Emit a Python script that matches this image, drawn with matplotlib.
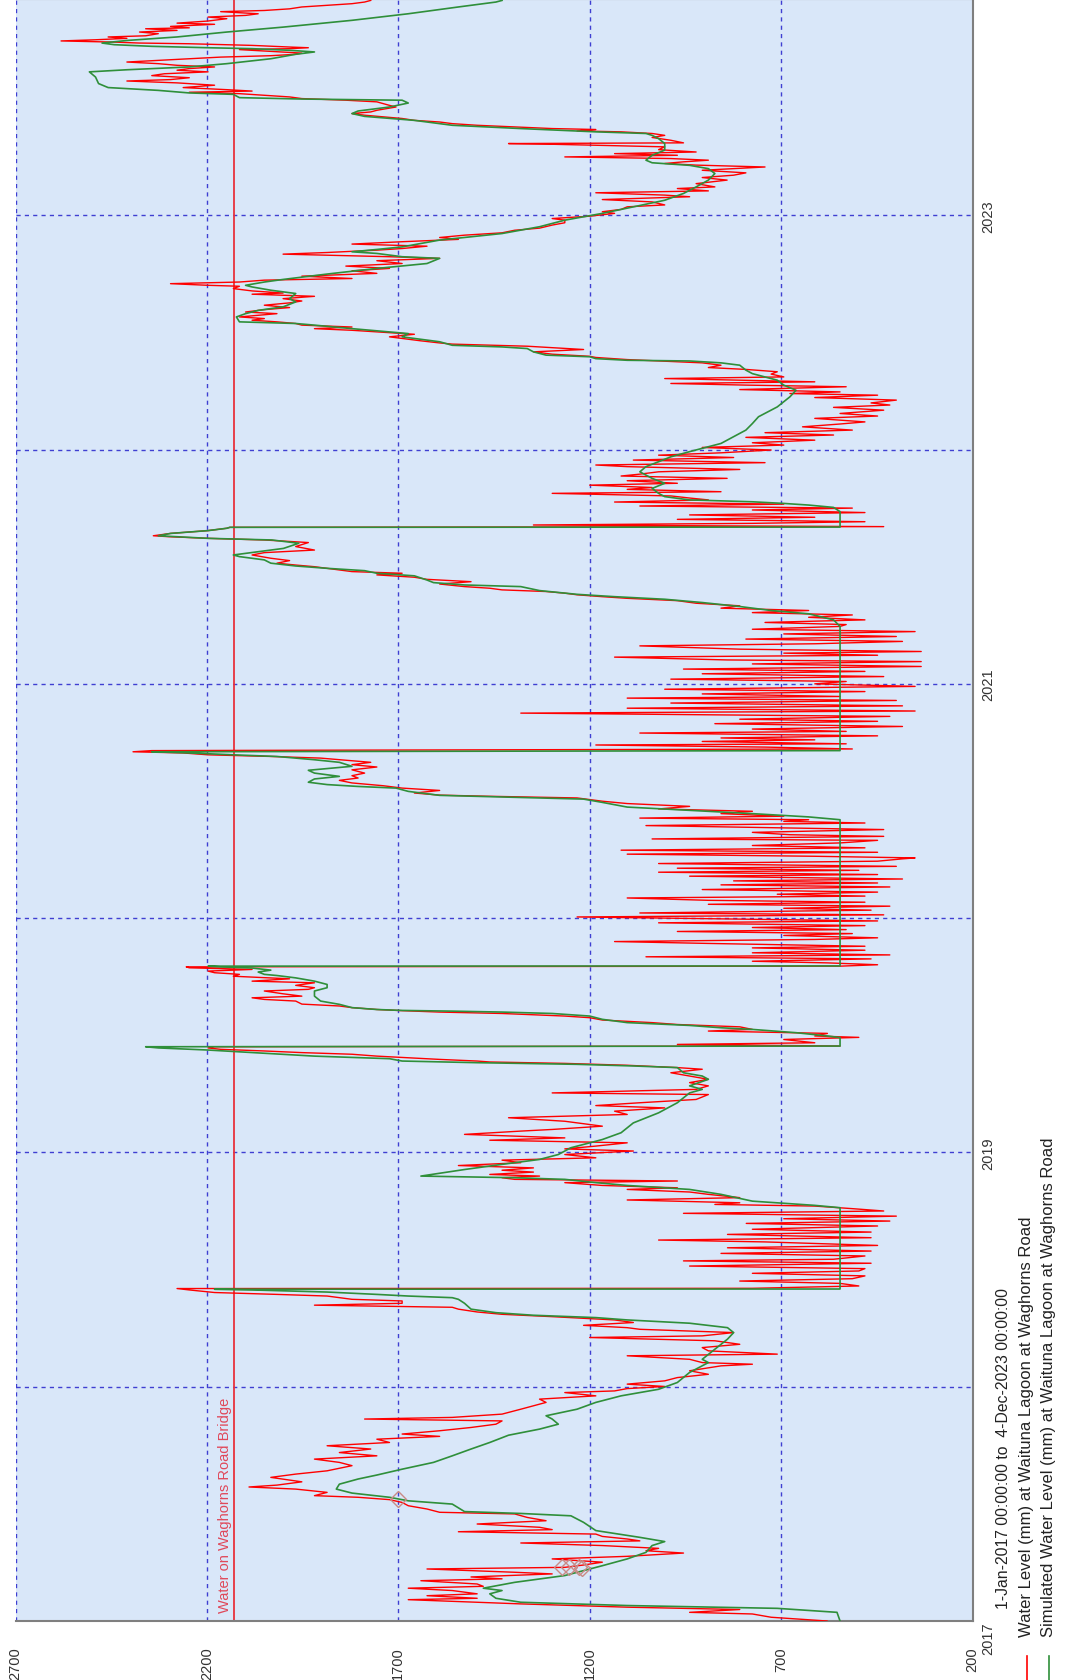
"""Waituna Lagoon water level at Waghorns Road, observed vs simulated,
drawn in the rotated (portrait) layout of the original report figure."""

import matplotlib

matplotlib.use("Agg")
import matplotlib.pyplot as plt
from matplotlib.lines import Line2D

# (decimal year, water level mm)
obs_a = [
    (2017.000, 580), (2017.016, 726), (2017.030, 775), (2017.037, 939), (2017.049, 808),
    (2017.059, 1102), (2017.073, 1380), (2017.080, 1494), (2017.091, 1674), (2017.097, 1494),
    (2017.108, 1625), (2017.116, 1494), (2017.130, 1559), (2017.140, 1674), (2017.148, 1478),
    (2017.158, 1494), (2017.172, 1641), (2017.180, 1429), (2017.188, 1510), (2017.201, 1298),
    (2017.208, 1396), (2017.222, 1625), (2017.229, 1265), (2017.239, 1216), (2017.251, 1167),
    (2017.265, 1298), (2017.276, 1102), (2017.290, 955), (2017.300, 1053), (2017.310, 1020),
    (2017.322, 1167), (2017.333, 1380), (2017.342, 1069), (2017.350, 1102), (2017.361, 1167),
    (2017.371, 1184), (2017.381, 1543), (2017.390, 1298), (2017.400, 1331), (2017.414, 1494),
    (2017.428, 1314), (2017.442, 1363), (2017.457, 1396), (2017.464, 1592), (2017.478, 1625),
    (2017.492, 1674), (2017.506, 1690), (2017.518, 1723), (2017.528, 1805), (2017.535, 1919),
    (2017.549, 1886), (2017.563, 1968), (2017.572, 2090), (2017.580, 2017), (2017.594, 1952),
    (2017.613, 2033), (2017.627, 1968), (2017.641, 1886), (2017.663, 1821), (2017.677, 1854),
    (2017.691, 1919), (2017.705, 1756), (2017.719, 1854), (2017.734, 1772), (2017.748, 1886),
    (2017.762, 1723), (2017.776, 1756), (2017.788, 1592), (2017.798, 1690), (2017.812, 1592),
    (2017.826, 1510), (2017.840, 1445), (2017.854, 1429), (2017.862, 1788), (2017.869, 1559),
    (2017.883, 1429), (2017.904, 1380), (2017.933, 1314), (2017.947, 1331), (2017.961, 1184),
    (2017.975, 1265), (2017.982, 1135), (2017.992, 1102), (2018.001, 1004), (2018.011, 1102),
    (2018.025, 1004), (2018.039, 971), (2018.053, 890), (2018.068, 939), (2018.089, 857),
    (2018.096, 775), (2018.103, 906),
]
obs_b = [
    (2018.117, 939), (2018.132, 1102), (2018.139, 710), (2018.153, 890), (2018.167, 906),
    (2018.181, 808), (2018.196, 873), (2018.210, 1200), (2018.217, 906), (2018.231, 824),
    (2018.245, 1069), (2018.252, 1102), (2018.262, 1216), (2018.274, 1086), (2018.285, 1135),
    (2018.299, 1298), (2018.309, 1429), (2018.319, 1494), (2018.331, 1543), (2018.339, 1559),
    (2018.348, 1919), (2018.356, 1690), (2018.366, 1690), (2018.373, 1821), (2018.387, 1886),
    (2018.394, 2017), (2018.402, 2180), (2018.413, 2246), (2018.419, 2278), (2018.420, 775),
    (2018.430, 497), (2018.441, 546), (2018.451, 808), (2018.461, 514), (2018.473, 481),
    (2018.484, 775), (2018.494, 497), (2018.504, 481), (2018.515, 939), (2018.527, 465),
    (2018.537, 955), (2018.544, 563), (2018.558, 481), (2018.569, 857), (2018.579, 465),
    (2018.593, 840), (2018.603, 448), (2018.618, 742), (2018.626, 1020), (2018.636, 465),
    (2018.650, 840), (2018.660, 465), (2018.672, 775), (2018.686, 448), (2018.697, 791),
    (2018.707, 416), (2018.717, 693), (2018.728, 399), (2018.740, 955), (2018.750, 432),
    (2018.760, 514), (2018.771, 612), (2018.778, 873), (2018.785, 808), (2018.797, 1102),
    (2018.807, 808), (2018.821, 890), (2018.831, 939), (2018.842, 1102), (2018.849, 971),
    (2018.859, 1167), (2018.871, 1265), (2018.878, 971), (2018.885, 1396), (2018.892, 1429),
    (2018.899, 1331), (2018.906, 1461), (2018.916, 1347), (2018.924, 1429), (2018.934, 1347),
    (2018.944, 1543), (2018.956, 1380), (2018.967, 1429), (2018.977, 1184), (2018.991, 1265),
    (2019.006, 1086), (2019.015, 1265), (2019.027, 1184), (2019.041, 1102), (2019.052, 1461),
    (2019.062, 1265), (2019.077, 1527), (2019.091, 1380), (2019.098, 1298), (2019.112, 1167),
    (2019.133, 1265), (2019.148, 1412), (2019.162, 1102), (2019.176, 1135), (2019.190, 1004),
    (2019.200, 1184), (2019.212, 1069), (2019.226, 922), (2019.247, 890), (2019.254, 1298),
]
obs_c = [
    (2019.269, 922), (2019.284, 890), (2019.298, 939), (2019.312, 890), (2019.326, 939),
    (2019.340, 988), (2019.355, 906), (2019.362, 971), (2019.372, 1102), (2019.380, 1265),
    (2019.386, 1461), (2019.390, 1494), (2019.397, 1592), (2019.404, 1674), (2019.411, 1756),
    (2019.419, 1821), (2019.426, 1952), (2019.433, 2050), (2019.440, 2164), (2019.446, 2197),
    (2019.451, 2180), (2019.454, 546), (2019.461, 971), (2019.468, 612), (2019.482, 693),
    (2019.491, 497), (2019.497, 612), (2019.508, 579), (2019.518, 890), (2019.525, 775),
    (2019.536, 808), (2019.546, 971), (2019.554, 1037), (2019.565, 1167), (2019.575, 1200),
    (2019.582, 1265), (2019.593, 1429), (2019.599, 1592), (2019.605, 1690), (2019.610, 1756),
    (2019.618, 1821), (2019.625, 1854), (2019.633, 1952), (2019.646, 1968), (2019.653, 2050),
    (2019.660, 2082), (2019.667, 1952), (2019.677, 2001), (2019.689, 2050), (2019.696, 1935),
    (2019.703, 1919), (2019.713, 1968), (2019.724, 1919), (2019.731, 2082), (2019.741, 1984),
    (2019.752, 2131), (2019.760, 2115), (2019.767, 2180), (2019.774, 2197), (2019.781, 2082),
    (2019.788, 2246), (2019.792, 2254), (2019.795, 546), (2019.801, 448), (2019.809, 579),
    (2019.816, 775), (2019.826, 465), (2019.835, 1053), (2019.843, 416), (2019.852, 775),
    (2019.863, 481), (2019.873, 775), (2019.880, 481), (2019.892, 890), (2019.900, 1135),
    (2019.909, 612), (2019.916, 448), (2019.926, 693), (2019.934, 514), (2019.943, 971),
    (2019.951, 530), (2019.960, 775), (2019.968, 481), (2019.980, 1020), (2019.988, 448),
    (2019.997, 857), (2020.005, 1233), (2020.014, 432), (2020.022, 1069), (2020.034, 465),
    (2020.042, 693), (2020.051, 416), (2020.059, 890), (2020.068, 481), (2020.076, 890),
    (2020.086, 1102), (2020.094, 481), (2020.102, 710), (2020.111, 448), (2020.122, 906),
    (2020.133, 416), (2020.142, 857), (2020.150, 448), (2020.159, 824), (2020.167, 383),
    (2020.179, 939), (2020.186, 448), (2020.196, 1020), (2020.204, 497), (2020.213, 971),
    (2020.221, 399), (2020.233, 1020), (2020.243, 448), (2020.253, 383), (2020.257, 350),
    (2020.264, 612), (2020.273, 1102), (2020.281, 448), (2020.290, 1118), (2020.300, 481),
    (2020.310, 775), (2020.321, 546), (2020.332, 448), (2020.338, 1037), (2020.349, 432),
    (2020.356, 677), (2020.366, 775), (2020.378, 432), (2020.385, 693), (2020.395, 1053),
    (2020.406, 481), (2020.413, 693),
]
obs_d = [
    (2020.420, 628), (2020.427, 1069), (2020.435, 693), (2020.446, 857), (2020.456, 775),
    (2020.466, 1020), (2020.477, 939), (2020.489, 1102), (2020.499, 1167), (2020.506, 1200),
    (2020.513, 1233), (2020.520, 1461), (2020.525, 1592), (2020.534, 1658), (2020.545, 1592),
    (2020.555, 1690), (2020.565, 1739), (2020.577, 1821), (2020.588, 1854), (2020.598, 1805),
    (2020.608, 1821), (2020.619, 1788), (2020.633, 1821), (2020.645, 1756), (2020.655, 1821),
    (2020.665, 1772), (2020.676, 1854), (2020.683, 1903), (2020.690, 2033), (2020.697, 2197),
    (2020.705, 2262), (2020.710, 2393), (2020.715, 2344), (2020.722, 514), (2020.730, 742),
    (2020.739, 1184), (2020.744, 530), (2020.754, 906), (2020.761, 612), (2020.769, 857),
    (2020.778, 448), (2020.790, 1069), (2020.797, 530), (2020.807, 775), (2020.818, 383),
    (2020.830, 873), (2020.840, 448), (2020.849, 808), (2020.861, 416), (2020.875, 1380),
    (2020.884, 350), (2020.896, 1102), (2020.906, 383), (2020.918, 988), (2020.929, 399),
    (2020.939, 1102), (2020.946, 546), (2020.957, 906), (2020.967, 481), (2020.977, 1004),
    (2020.989, 350), (2021.000, 612), (2021.010, 530), (2021.020, 988), (2021.031, 432),
    (2021.043, 906), (2021.053, 481), (2021.063, 955), (2021.074, 334), (2021.085, 775),
    (2021.095, 334), (2021.102, 841), (2021.114, 1135), (2021.122, 448), (2021.131, 693),
    (2021.138, 334), (2021.148, 808), (2021.162, 1069), (2021.171, 612), (2021.181, 383),
    (2021.191, 792), (2021.202, 399), (2021.213, 693), (2021.223, 350), (2021.233, 775),
    (2021.245, 546), (2021.253, 530), (2021.262, 742), (2021.273, 481), (2021.284, 628),
    (2021.294, 514), (2021.304, 775), (2021.313, 628), (2021.323, 857), (2021.333, 808),
    (2021.344, 922), (2021.355, 971), (2021.365, 1102), (2021.372, 1167), (2021.380, 1233),
    (2021.387, 1265), (2021.394, 1314), (2021.401, 1429), (2021.408, 1461), (2021.415, 1527),
    (2021.426, 1592), (2021.436, 1510), (2021.446, 1625), (2021.455, 1658), (2021.465, 1756),
    (2021.472, 1690), (2021.479, 1821), (2021.486, 1854), (2021.493, 1886), (2021.500, 1919),
    (2021.507, 1968), (2021.515, 2017), (2021.526, 1984), (2021.536, 2033), (2021.550, 2082),
    (2021.560, 2050), (2021.571, 1919), (2021.586, 1968), (2021.603, 1935), (2021.614, 2050),
    (2021.621, 2197), (2021.628, 2300), (2021.632, 2340), (2021.642, 2295), (2021.654, 2197),
    (2021.664, 2148), (2021.668, 2140),
]
obs_e = [
    (2021.671, 432), (2021.678, 1347), (2021.685, 775), (2021.692, 481), (2021.702, 971),
    (2021.711, 612), (2021.721, 939), (2021.731, 481), (2021.742, 775), (2021.750, 514),
    (2021.759, 1069), (2021.767, 693), (2021.776, 1135), (2021.785, 890), (2021.793, 939),
    (2021.802, 988), (2021.813, 1298), (2021.820, 857), (2021.830, 1102), (2021.838, 1037),
    (2021.848, 1200), (2021.856, 971), (2021.867, 1102), (2021.877, 841), (2021.887, 1118),
    (2021.895, 1069), (2021.905, 1020), (2021.915, 808), (2021.927, 1102), (2021.934, 1184),
    (2021.944, 742), (2021.955, 1086), (2021.966, 824), (2021.976, 1020), (2021.986, 857),
    (2021.998, 726), (2022.009, 906), (2022.019, 693), (2022.029, 775), (2022.040, 612),
    (2022.052, 792), (2022.062, 563), (2022.072, 742), (2022.083, 514), (2022.097, 644),
    (2022.109, 546), (2022.118, 481), (2022.133, 612), (2022.143, 448), (2022.154, 546),
    (2022.168, 432), (2022.180, 563), (2022.190, 416), (2022.199, 465), (2022.211, 399),
    (2022.222, 612), (2022.232, 448), (2022.239, 677), (2022.246, 546), (2022.256, 808),
    (2022.268, 530), (2022.275, 792), (2022.282, 988), (2022.289, 612), (2022.303, 1004),
    (2022.310, 693), (2022.322, 726), (2022.332, 710), (2022.342, 792), (2022.350, 890),
    (2022.360, 857), (2022.370, 906), (2022.378, 1020), (2022.384, 1102), (2022.393, 1184),
    (2022.398, 1200), (2022.407, 1298), (2022.417, 1347), (2022.427, 1216), (2022.435, 1298),
    (2022.441, 1363), (2022.450, 1559), (2022.455, 1592), (2022.464, 1641), (2022.474, 1690),
    (2022.481, 1723), (2022.492, 1658), (2022.502, 1756), (2022.509, 1821), (2022.516, 1919),
    (2022.523, 1821), (2022.531, 1952), (2022.538, 1968), (2022.545, 2017), (2022.552, 2082),
    (2022.559, 2050), (2022.566, 2115), (2022.573, 2066), (2022.580, 2017), (2022.587, 2099),
    (2022.597, 2050), (2022.606, 1984), (2022.616, 2050), (2022.626, 1984), (2022.634, 1952),
    (2022.644, 2001), (2022.654, 1919), (2022.663, 2082), (2022.668, 2001), (2022.677, 2082),
    (2022.687, 2131), (2022.697, 2115), (2022.701, 2197), (2022.708, 2295), (2022.715, 2115),
]
obs_f = [
    (2022.723, 2050), (2022.730, 1821), (2022.740, 1952), (2022.752, 1756), (2022.763, 1821),
    (2022.773, 1723), (2022.783, 1837), (2022.794, 1690), (2022.806, 1756), (2022.816, 1592),
    (2022.823, 1723), (2022.834, 2001), (2022.841, 1886), (2022.851, 1756), (2022.858, 1690),
    (2022.868, 1625), (2022.877, 1821), (2022.887, 1690), (2022.897, 1543), (2022.905, 1592),
    (2022.915, 1527), (2022.925, 1429), (2022.936, 1396), (2022.945, 1331), (2022.958, 1298),
    (2022.968, 1265), (2022.979, 1265), (2022.986, 1298), (2022.996, 1200), (2023.008, 1135),
    (2023.015, 1167), (2023.025, 1118), (2023.036, 1102), (2023.044, 1004), (2023.057, 1037),
    (2023.067, 1167), (2023.079, 939), (2023.086, 1004), (2023.096, 1184), (2023.104, 890),
    (2023.114, 971), (2023.121, 873), (2023.135, 922), (2023.150, 841), (2023.161, 906),
    (2023.171, 824), (2023.181, 792), (2023.192, 906), (2023.206, 742), (2023.214, 922),
    (2023.221, 1004), (2023.228, 955), (2023.235, 890), (2023.242, 988), (2023.249, 1265),
    (2023.256, 971), (2023.263, 1135), (2023.270, 922), (2023.280, 1020), (2023.292, 1004),
    (2023.303, 1298), (2023.306, 1412), (2023.309, 955), (2023.320, 988), (2023.332, 1037),
    (2023.341, 1004), (2023.349, 1037), (2023.356, 1118), (2023.360, 1233), (2023.366, 1184),
    (2023.370, 1298), (2023.377, 1396), (2023.384, 1494), (2023.391, 1559), (2023.398, 1592),
    (2023.405, 1658), (2023.413, 1690), (2023.420, 1739), (2023.427, 1788), (2023.434, 1821),
    (2023.441, 1772), (2023.448, 1756), (2023.462, 1706), (2023.469, 1723), (2023.484, 1756),
    (2023.491, 1837), (2023.498, 1952), (2023.505, 1984), (2023.512, 2050), (2023.519, 2115),
    (2023.525, 2246), (2023.530, 2082), (2023.536, 2148), (2023.545, 2262), (2023.555, 2180),
    (2023.565, 2278), (2023.573, 2409), (2023.579, 2295), (2023.587, 2246), (2023.596, 2344),
    (2023.604, 2311), (2023.612, 2197), (2023.619, 2278), (2023.626, 2246), (2023.633, 2180),
    (2023.640, 2278), (2023.647, 2327), (2023.654, 2409), (2023.661, 2327), (2023.668, 2246),
    (2023.675, 2164), (2023.681, 2033), (2023.687, 1968), (2023.692, 1952), (2023.698, 2017),
    (2023.704, 2082), (2023.707, 2115), (2023.711, 1984), (2023.715, 1935), (2023.718, 1984),
    (2023.725, 2082), (2023.732, 2246), (2023.735, 2376), (2023.739, 2442), (2023.744, 2581),
    (2023.749, 2491), (2023.755, 2409), (2023.761, 2458), (2023.766, 2360), (2023.775, 2327),
    (2023.782, 2376), (2023.789, 2278), (2023.796, 2360), (2023.800, 2246), (2023.806, 2295),
    (2023.815, 2180), (2023.820, 2278), (2023.829, 2197), (2023.839, 2148), (2023.846, 2197),
    (2023.853, 2099), (2023.860, 2066), (2023.869, 2164), (2023.874, 2050), (2023.881, 1984),
    (2023.889, 1952), (2023.896, 1886), (2023.903, 1821), (2023.910, 1788), (2023.917, 1772),
]

sim_a = [
    (2017.000, 546), (2017.037, 554), (2017.054, 710), (2017.066, 1102), (2017.080, 1380),
    (2017.097, 1445), (2017.116, 1461), (2017.130, 1429), (2017.140, 1478), (2017.165, 1396),
    (2017.194, 1265), (2017.236, 1167), (2017.265, 1102), (2017.293, 1053), (2017.322, 1037),
    (2017.339, 1004), (2017.357, 1069), (2017.386, 1184), (2017.421, 1216), (2017.449, 1249),
    (2017.459, 1380), (2017.467, 1527), (2017.499, 1559), (2017.513, 1674), (2017.528, 1723),
    (2017.546, 1821), (2017.563, 1862), (2017.584, 1854), (2017.606, 1805), (2017.623, 1756),
    (2017.648, 1690), (2017.677, 1608), (2017.705, 1559), (2017.734, 1510), (2017.762, 1461),
    (2017.793, 1412), (2017.819, 1331), (2017.840, 1282), (2017.862, 1298), (2017.876, 1314),
    (2017.904, 1233), (2017.933, 1184), (2017.961, 1118), (2017.989, 1020), (2018.018, 971),
    (2018.061, 939), (2018.103, 890),
]
sim_b = [
    (2018.117, 906), (2018.160, 873), (2018.203, 840), (2018.231, 824), (2018.252, 840),
    (2018.271, 939), (2018.285, 1102), (2018.295, 1184), (2018.305, 1347), (2018.316, 1445),
    (2018.331, 1510), (2018.356, 1527), (2018.373, 1543), (2018.380, 1559), (2018.387, 1674),
    (2018.394, 1756), (2018.404, 1886), (2018.413, 2082), (2018.416, 2180), (2018.417, 546),
    (2018.764, 546), (2018.774, 612), (2018.792, 775), (2018.821, 857), (2018.842, 939),
    (2018.859, 1102), (2018.871, 1184), (2018.885, 1265), (2018.892, 1396), (2018.896, 1543),
    (2018.899, 1641), (2018.907, 1608), (2018.927, 1527), (2018.949, 1429), (2018.970, 1331),
    (2018.991, 1282), (2019.020, 1249), (2019.055, 1167), (2019.084, 1118), (2019.126, 1086),
    (2019.169, 1020), (2019.212, 971), (2019.254, 939),
]
sim_c = [
    (2019.269, 906), (2019.284, 939), (2019.312, 890), (2019.326, 906), (2019.340, 955),
    (2019.362, 971), (2019.369, 1086), (2019.376, 1233), (2019.383, 1494), (2019.390, 1690),
    (2019.400, 1723), (2019.411, 1919), (2019.426, 2082), (2019.437, 2197), (2019.446, 2327),
    (2019.451, 2360), (2019.454, 546), (2019.490, 546), (2019.497, 579), (2019.511, 661),
    (2019.525, 775), (2019.532, 857), (2019.542, 939), (2019.554, 1102), (2019.568, 1167),
    (2019.582, 1200), (2019.593, 1298), (2019.599, 1429), (2019.603, 1559), (2019.606, 1690),
    (2019.610, 1756), (2019.618, 1821), (2019.632, 1854), (2019.646, 1903), (2019.667, 1919),
    (2019.689, 1919), (2019.703, 1886), (2019.717, 1886), (2019.731, 1919), (2019.745, 1968),
    (2019.755, 2017), (2019.760, 2050), (2019.770, 2066), (2019.778, 2033), (2019.787, 2082),
    (2019.792, 2164), (2019.795, 2197), (2019.796, 546),
]
sim_d = [
    (2020.420, 546), (2020.432, 628), (2020.446, 775), (2020.460, 939), (2020.474, 1102),
    (2020.494, 1167), (2020.508, 1216), (2020.517, 1429), (2020.524, 1592), (2020.541, 1674),
    (2020.555, 1706), (2020.562, 1805), (2020.570, 1886), (2020.580, 1935), (2020.594, 1919),
    (2020.605, 1854), (2020.619, 1919), (2020.631, 1935), (2020.648, 1821), (2020.665, 1854),
    (2020.676, 1919), (2020.690, 2017), (2020.697, 2131), (2020.705, 2246), (2020.710, 2344),
    (2020.715, 546), (2021.245, 546), (2021.273, 563), (2021.299, 628), (2021.313, 726),
    (2021.330, 808), (2021.347, 906), (2021.361, 1004), (2021.372, 1135), (2021.382, 1233),
    (2021.398, 1331), (2021.415, 1380), (2021.422, 1527), (2021.432, 1608), (2021.443, 1625),
    (2021.461, 1658), (2021.472, 1756), (2021.483, 1788), (2021.493, 1886), (2021.503, 1968),
    (2021.515, 2033), (2021.529, 2050), (2021.543, 2115), (2021.550, 2131), (2021.578, 2000),
    (2021.600, 1960), (2021.614, 2030), (2021.621, 2197), (2021.632, 2327), (2021.642, 2295),
    (2021.654, 2197), (2021.664, 2148), (2021.668, 2140),
]
sim_e = [
    (2021.669, 546), (2021.735, 546), (2021.753, 563), (2021.763, 628), (2021.770, 693),
    (2021.777, 775), (2021.785, 939), (2021.799, 1004), (2021.813, 1020), (2021.834, 1037),
    (2021.856, 1004), (2021.877, 1037), (2021.905, 1069), (2021.927, 1053), (2021.948, 1020),
    (2021.969, 988), (2021.991, 939), (2022.026, 857), (2022.083, 792), (2022.111, 775),
    (2022.140, 759), (2022.182, 710), (2022.225, 677), (2022.253, 661), (2022.275, 693),
    (2022.296, 710), (2022.324, 775), (2022.339, 792), (2022.360, 808), (2022.370, 857),
    (2022.378, 939), (2022.381, 1102), (2022.388, 1184), (2022.396, 1200), (2022.403, 1314),
    (2022.417, 1347), (2022.431, 1363), (2022.438, 1429), (2022.445, 1559), (2022.460, 1592),
    (2022.474, 1658), (2022.481, 1690), (2022.495, 1674), (2022.502, 1723), (2022.516, 1821),
    (2022.531, 1919), (2022.538, 1968), (2022.545, 2115), (2022.566, 2123), (2022.580, 2099),
    (2022.594, 2066), (2022.609, 2001), (2022.630, 1968), (2022.644, 1984), (2022.666, 1968),
    (2022.680, 2033), (2022.694, 2082), (2022.701, 2099), (2022.715, 2050),
]
sim_f = [
    (2022.726, 2001), (2022.749, 1886), (2022.773, 1756), (2022.794, 1625), (2022.816, 1592),
    (2022.823, 1690), (2022.837, 1756), (2022.844, 1821), (2022.854, 1756), (2022.865, 1690),
    (2022.894, 1592), (2022.922, 1429), (2022.951, 1331), (2022.979, 1265), (2023.008, 1167),
    (2023.036, 1086), (2023.064, 1004), (2023.093, 955), (2023.121, 922), (2023.150, 890),
    (2023.178, 873), (2023.199, 890), (2023.213, 939), (2023.224, 1037), (2023.235, 1053),
    (2023.256, 1037), (2023.278, 1004), (2023.306, 1004), (2023.327, 1020), (2023.341, 1037),
    (2023.349, 1053), (2023.356, 1184), (2023.370, 1380), (2023.384, 1559), (2023.405, 1658),
    (2023.422, 1788), (2023.434, 1821), (2023.445, 1805), (2023.462, 1723), (2023.479, 1674),
    (2023.491, 1690), (2023.496, 1952), (2023.502, 2115), (2023.516, 2131), (2023.522, 2246),
    (2023.533, 2327), (2023.545, 2458), (2023.562, 2483), (2023.590, 2491), (2023.612, 2507),
    (2023.621, 2409), (2023.633, 2246), (2023.647, 2148), (2023.668, 2033), (2023.687, 1968),
    (2023.697, 1919), (2023.704, 1984), (2023.711, 2082), (2023.715, 2197), (2023.721, 2344),
    (2023.728, 2442), (2023.735, 2474), (2023.746, 2409), (2023.761, 2278), (2023.782, 2148),
    (2023.803, 2001), (2023.832, 1821), (2023.860, 1674), (2023.889, 1543), (2023.910, 1445),
    (2023.917, 1429),
]

gauge_t = [2017.230, 2017.232, 2017.230, 2017.225, 2017.519]
gauge_mm = [1273, 1255, 1229, 1221, 1700]

bridge_mm = 2130
level_ticks = [2700, 2200, 1700, 1200, 700, 200]
year_ticks = [2017, 2018, 2019, 2020, 2021, 2022, 2023]
year_labels = ["2017", "", "2019", "", "2021", "", "2023"]
t_start, t_end = 2017.0, 2023.923

plt.rcParams["font.family"] = ["Liberation Sans", "DejaVu Sans"]

obs = obs_a + obs_b + obs_c + obs_d + obs_e + obs_f
sim = sim_a + sim_b + sim_c + sim_d + sim_e + sim_f
obs_t = [p[0] for p in obs]
obs_mm = [p[1] for p in obs]
sim_t = [p[0] for p in sim]
sim_mm = [p[1] for p in sim]

W, H = 1067, 1681
fig = plt.figure(figsize=(W / 100, H / 100), dpi=100)
ax = fig.add_axes([15.5 / W, 1 - 1622 / H, 957 / W, 1622 / H])
ax.set_facecolor("#d9e7f9")

red = "#ff0000"
green = "#2f8f3a"
ax.axvline(bridge_mm, color="#e8323c", lw=1.3, zorder=2)
ax.plot(obs_mm, obs_t, color=red, lw=1.0, zorder=3)
ax.plot(sim_mm, sim_t, color=green, lw=1.2, zorder=4)
ax.plot(gauge_mm, gauge_t, "D", mfc="none", mec="#c98a86", mew=1.0, ms=8, zorder=5)

ax.annotate("Water on Waghorns Road Bridge", xy=(bridge_mm, t_start), xycoords="data",
            xytext=(-1.5, 6.5), textcoords="offset points", rotation=90,
            ha="right", va="bottom", color="#e0485a", fontsize=10.5)

ax.set_xlim(2700, 200)
ax.set_ylim(t_start, t_end)
ax.set_xticks(level_ticks)
ax.set_xticklabels([str(v) for v in level_ticks], rotation=90)
ax.set_yticks(year_ticks)
ax.yaxis.tick_right()
ax.set_yticklabels(year_labels, rotation=90, va="center")
ax.get_yticklabels()[0].set_va("top")
ax.tick_params(axis="x", length=0, pad=18, labelsize=10.5, labelcolor="#333333")
ax.tick_params(axis="y", length=0, pad=6, labelsize=10.5, labelcolor="#333333")

ax.grid(True, color="#3f3fd2", lw=1.0, ls=(0, (3, 3)))
ax.set_axisbelow(True)
for side in ("bottom", "right", "top"):
    ax.spines[side].set_color("#7f7f7f")
    ax.spines[side].set_linewidth(1.5)
ax.spines["left"].set_visible(False)

# legend block in the right margin, rotated like the rest
fig.text(1003 / W, 1 - 1609 / H, "1-Jan-2017 00:00:00 to  4-Dec-2023 00:00:00",
         rotation=90, ha="center", va="bottom", fontsize=11.3, color="#222222")
entries = [(1027, red, "Water Level (mm) at Waituna Lagoon at Waghorns Road"),
           (1049, green, "Simulated Water Level (mm) at Waituna Lagoon at Waghorns Road")]
for x, col, label in entries:
    fig.add_artist(Line2D([x / W, x / W], [0.0, 1 - 1657 / H], transform=fig.transFigure,
                          color=col, lw=1.2))
    fig.text(x / W, 1 - 1637 / H, label, rotation=90, ha="center", va="bottom",
             fontsize=12, color="#222222")

fig.savefig("out.png", dpi=100, facecolor="white")
